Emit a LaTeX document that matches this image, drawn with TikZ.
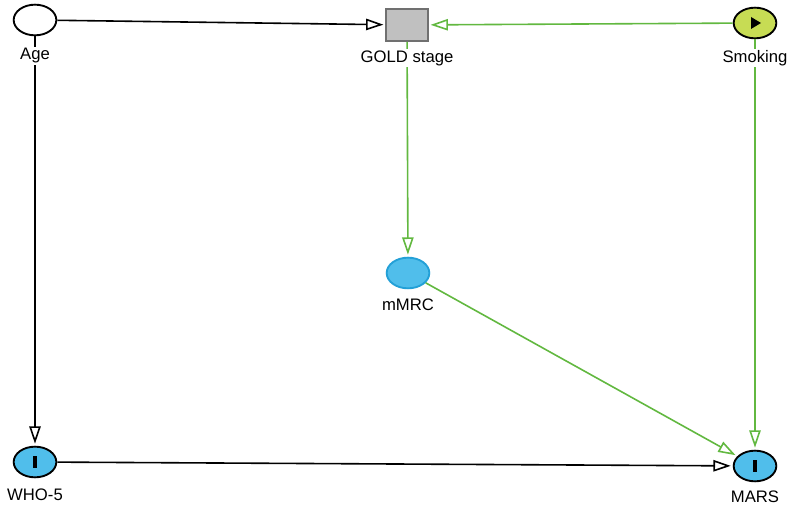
\documentclass[tikz,border=0pt]{standalone}
\usepackage{fontspec}
\setmainfont{Liberation Sans}
\usetikzlibrary{arrows.meta,positioning,shapes.geometric}
\definecolor{edgegreen}{RGB}{98,184,64}
\definecolor{smokefill}{RGB}{199,220,84}
\definecolor{varblue}{RGB}{80,190,235}
\definecolor{varborder}{RGB}{35,160,215}
\definecolor{goldfill}{RGB}{192,192,192}
\definecolor{goldborder}{RGB}{112,112,112}
\tikzset{
  var/.style={ellipse, draw, line width=1.4pt, minimum width=32pt, minimum height=23pt, inner sep=0pt},
  expo/.style={var, fill=smokefill, path picture={\fill[black] ([xshift=-3pt,yshift=4.5pt]path picture bounding box.center) -- ++(7.5pt,-4.5pt) -- ++(-7.5pt,-4.5pt) -- cycle;}},
  outc/.style={var, fill=varblue, path picture={\fill[black] ([xshift=-1.6pt,yshift=-4.5pt]path picture bounding box.center) rectangle ++(3.2pt,9pt);}},
  medi/.style={var, draw=varborder, fill=varblue},
  adj/.style={rectangle, draw=goldborder, fill=goldfill, line width=1.4pt, minimum width=31pt, minimum height=24pt, inner sep=0pt},
  lbl/.style={fill=white, inner sep=1pt, font=\fontsize{12.5}{14}\selectfont},
  blk/.style={line width=1.2pt, shorten >=1.5pt, -{Triangle[open, length=13pt, width=8.5pt]}},
  grn/.style={blk, draw=edgegreen}
}
\begin{document}
\begin{tikzpicture}[x=0.75pt, y=-0.75pt]
	\useasboundingbox (0,0) rectangle (793,509);
	\node[var] (age) at (35,20) {};
	\node[adj] (gold) at (407,25) {};
	\node[expo] (smoke) at (755,23) {};
	\node[medi] (mmrc) at (408,273) {};
	\node[outc] (who) at (35,462) {};
	\node[outc] (mars) at (755,466) {};

	\draw[blk] (age) -- (gold);
	\draw[grn] (smoke) -- (gold);
	\draw[grn] (gold) -- (mmrc);
	\draw[blk] (age) -- (who);
	\draw[grn] (smoke) -- (mars);
	\draw[grn] (mmrc) -- (mars);
	\draw[blk] (who) -- (mars);

	\node[lbl] (agel) at (35,56) {Age};
	\node[lbl] (goldl) at (407,58) {GOLD stage};
	\node[lbl] (smokel) at (755,58) {Smoking};
	\node[lbl] (mmrcl) at (408,305) {mMRC};
	\node[lbl] (whol) at (35,495) {WHO-5};
	\node[lbl] (marsl) at (755,497) {MARS};
\end{tikzpicture}
\end{document}
